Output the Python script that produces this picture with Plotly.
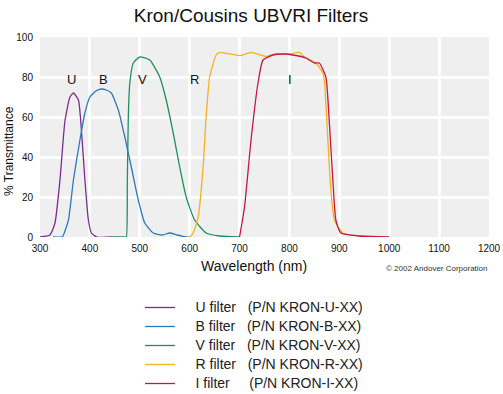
import plotly.graph_objects as go

# ---- data ----
u_nm = [300, 320, 330, 340, 350, 360, 367, 377, 383, 390, 397, 403, 414, 446]
u_t = [0, 1, 7, 28.5, 58, 70, 72, 68.5, 53.5, 28.5, 8.5, 2, 0, 0]

b_nm = [326, 344, 347, 357, 367, 380, 390, 400, 412, 423, 433, 443, 457, 470,
        483, 497, 510, 527, 545, 560, 575, 593, 600]
b_t = [0, 0, 1, 8.5, 28.5, 48.5, 62, 70, 73, 74, 73.5, 72, 63.5, 50,
       35, 18.5, 7, 2, 1, 2, 1, 0, 0]

v_nm = [446, 470, 473, 475, 477, 480, 487, 500, 520, 540, 553, 567, 580, 593,
        610, 633, 660, 700]
v_t = [0, 0, 0, 27, 60, 77, 87, 90, 88.5, 80, 68.5, 52, 35, 20,
       8.5, 2, 0.5, 0]

r_nm = [600, 607, 617, 627, 633, 640, 653, 660, 700, 723, 753, 773, 800, 820,
        830, 853, 867, 870, 877, 883, 890, 907, 940, 1000]
r_t = [0, 2, 10, 35, 60, 80, 91, 92.3, 90.7, 92.3, 90.3, 91.7, 91.5, 92.3,
       90, 87, 82, 78.5, 48.5, 23.5, 8.5, 2, 0.5, 0]

i_nm = [700, 710, 723, 737, 747, 767, 790, 807, 833, 850, 860, 873, 880, 887,
        893, 903, 940, 1000]
i_t = [0, 15, 48.5, 77, 88.5, 91, 91.5, 91, 89.5, 87, 87, 80, 57, 28.5,
       8.5, 2, 0.5, 0]

names = ["U filter", "B filter", "V filter", "R filter", "I filter"]
parts = ["(P/N KRON-U-XX)", "(P/N KRON-B-XX)", "(P/N KRON-V-XX)",
         "(P/N KRON-R-XX)", "(P/N KRON-I-XX)"]
gaps = [3, 3, 3, 3, 5]
letters = ["U", "B", "V", "R", "I"]
letter_x = [364, 428, 506, 610, 802]
letter_y = [79, 79, 79, 79, 79]

xticks = [300, 400, 500, 600, 700, 800, 900, 1000, 1100, 1200]
yticks = [0, 20, 40, 60, 80, 100]

colors = ["#7b2d8f", "#2b7bbb", "#1f8f62", "#f4b21c", "#c4184a"]
series = [(u_nm, u_t), (b_nm, b_t), (v_nm, v_t), (r_nm, r_t), (i_nm, i_t)]

NB = "\u00a0"
fig = go.Figure()
for (x, y), n, p, g, c in zip(series, names, parts, gaps, colors):
    label = "<span style='font-size:14px'>" + NB * 4 + n + NB * g + p + "</span>"
    fig.add_trace(go.Scatter(
        x=x, y=y, mode="lines", name=label,
        line=dict(color=c, width=1.3, shape="spline", smoothing=0.5),
    ))

for L, lx, ly in zip(letters, letter_x, letter_y):
    fig.add_annotation(x=lx, y=ly, text=L, showarrow=False,
                       font=dict(size=13, color="#111"))

fig.add_annotation(text="Wavelength (nm)", xref="paper", yref="paper",
                   x=(254 - 40) / 449, y=-29 / 200, yanchor="middle",
                   showarrow=False, font=dict(size=14, color="#111"))
fig.add_annotation(text="\u00a9 2002 Andover Corporation", xref="paper", yref="paper",
                   x=(490 - 40) / 449, y=-31 / 200, xanchor="right", yanchor="middle",
                   showarrow=False, font=dict(size=8, color="#333"))
fig.add_annotation(text="% Transmittance", xref="paper", yref="paper",
                   x=(9 - 40) / 449, y=(237 - 151) / 200, xanchor="center",
                   yanchor="middle", textangle=-90, showarrow=False,
                   font=dict(size=12, color="#111"))

fig.update_layout(
    width=503, height=394,
    margin=dict(l=40, r=14, t=37, b=157, autoexpand=False),
    paper_bgcolor="white", plot_bgcolor="#efefef",
    font=dict(family="Liberation Sans, Arial, sans-serif", color="#111"),
    title=dict(text="Kron/Cousins UBVRI Filters", x=251 / 503, xanchor="center",
               y=1 - 15 / 394, yanchor="middle", font=dict(size=19)),
    showlegend=True,
    legend=dict(x=(140 - 40) / 449, y=(237 - 293) / 200,
                xanchor="left", yanchor="top", font=dict(size=12, color="#222"),
                bgcolor="rgba(0,0,0,0)", tracegroupgap=0),
    xaxis=dict(range=[300, 1200], tickvals=xticks, showgrid=True, gridcolor="white",
               gridwidth=3, zeroline=False, showline=False, ticks="",
               tickfont=dict(size=10), fixedrange=True, tickangle=0,
               ticklabelstandoff=4),
    yaxis=dict(range=[0, 100], tickvals=yticks, showgrid=True, gridcolor="white",
               gridwidth=3, zeroline=False, showline=False, ticks="",
               tickfont=dict(size=10), fixedrange=True, ticklabelstandoff=6),
)

fig.write_html("out.html", config={"displayModeBar": False},
               post_script="document.body.style.margin='0';")
